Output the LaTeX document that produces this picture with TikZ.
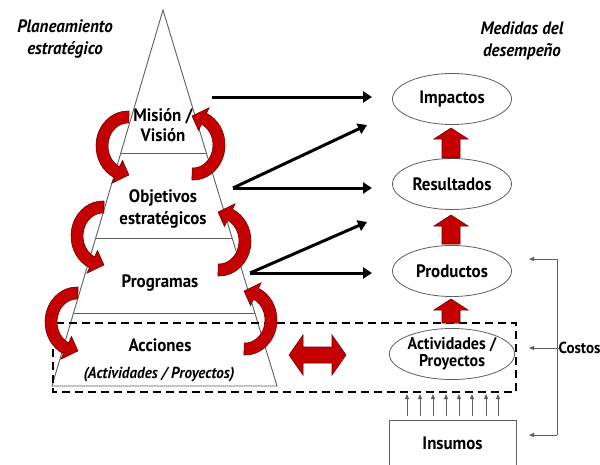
\documentclass[tikz,border=0pt]{standalone}
\usepackage{fontspec}
\setmainfont{PT Sans}[FakeStretch=0.94]
\usetikzlibrary{shapes.geometric,arrows.meta,calc}
\definecolor{arrowred}{RGB}{196,0,0}
\definecolor{darkred}{RGB}{105,0,0}
\definecolor{linegray}{RGB}{95,95,95}
\newcommand\RedCurl[5]{%
  \filldraw[curlst] ($(#1,#2)+(#3:32 and 35)$) arc[start angle=#3,end angle=#4,x radius=32,y radius=35]
    -- ($(#1,#2)+(#4:38 and 41)$) -- ($(#1,#2)+(#5:26 and 29)$) -- ($(#1,#2)+(#4:13 and 16)$)
    -- ($(#1,#2)+(#4:20 and 23)$) arc[start angle=#4,end angle=#3,x radius=20,y radius=23] -- cycle;}
\newcommand\UpBlock[3]{%
  \filldraw[curlst] (#1-9,#3) -- (#1-9,#2+11) -- (#1-17,#2+11) -- (#1,#2)
    -- (#1+17,#2+11) -- (#1+9,#2+11) -- (#1+9,#3) -- cycle;}
\begin{document}
\begin{tikzpicture}[x=1pt,y=-1pt,
  lbl/.style={font=\bfseries\fontsize{18}{21}\selectfont, align=center, inner sep=0pt},
  ital/.style={font=\bfseries\itshape\fontsize{18}{22}\selectfont, align=center, inner sep=0pt},
  oval/.style={ellipse, draw=linegray, line width=0.8pt, minimum width=119pt, minimum height=51pt, inner sep=0pt, font=\bfseries\fontsize{18}{20}\selectfont, align=center},
  pyr/.style={draw=linegray, line width=0.9pt},
  curlst/.style={fill=arrowred, draw=darkred, line width=0.6pt},
  blk/.style={line width=3pt, -{Triangle[length=9pt,width=11pt]}},
  thin/.style={draw=linegray, line width=0.9pt},
  thinarr/.style={draw=linegray, line width=0.9pt, -{Triangle[length=5pt,width=4pt]}},
  frame/.style={draw=black, line width=2.8pt, dash pattern=on 8pt off 5pt}
]
\useasboundingbox (0,0) rectangle (600,464);
\fill[white] (0,0) rectangle (600,464);

% pyramid
\draw[pyr] (163,10) -- (277,386) -- (52,386) -- cycle;
\draw[pyr] (120.8,153) -- (206.4,153);
\draw[pyr] (95.7,238) -- (232.1,238);
\draw[pyr] (73.6,313) -- (254.9,313);

% dashed frame
\draw[frame] (53,323) rectangle (516,392);

% headings
\node[ital] (plan) at (65,39) {Planeamiento\\estratégico};
\node[ital] (med) at (522,41) {Medidas del\\desempeño};

% pyramid labels
\node[lbl, font=\bfseries\fontsize{18}{20}\selectfont] (mision) at (163,125) {Misión /\\Visión};
\node[lbl, font=\bfseries\fontsize{18}{22}\selectfont] (obj) at (163,209) {Objetivos\\estratégicos};
\node[lbl] (prog) at (160,283) {Programas};
\node[lbl] (acc) at (160,345) {Acciones};
\node[ital, font=\bfseries\itshape\fontsize{16}{18}\selectfont] (accsub) at (159,375) {(Actividades / Proyectos)};

% ellipses
\node[oval] (imp) at (452,99) {Impactos};
\node[oval] (res) at (452,184) {Resultados};
\node[oval] (prod) at (452,271) {Productos};
\node[oval, font=\bfseries\fontsize{17}{17}\selectfont] (act) at (452,354) {Actividades /\\Proyectos};

% insumos
\node[draw=linegray, line width=0.9pt, minimum width=127pt, minimum height=46pt, inner sep=0pt,
      font=\bfseries\fontsize{18}{20}\selectfont] (ins) at (452.5,443) {Insumos};

% black arrows
\coordinate (a1) at (212,97);  \coordinate (b1) at (372,97);
\coordinate (a2) at (233,188); \coordinate (b2) at (367,125); \coordinate (c2) at (372,188);
\coordinate (a3) at (250,273); \coordinate (b3) at (367,222); \coordinate (c3) at (372,273);
\draw[blk] (a1) -- (b1);
\draw[blk] (a2) -- (b2);
\draw[blk] (a2) -- (c2);
\draw[blk] (a3) -- (b3);
\draw[blk] (a3) -- (c3);

% red block up arrows
\UpBlock{451}{128}{158}
\UpBlock{451}{215}{244}
\UpBlock{451}{299}{323}

% double arrow
\filldraw[curlst] (289,355) -- (303,335) -- (303,347) -- (332,347) -- (332,335) -- (346,355)
  -- (332,375) -- (332,363) -- (303,363) -- (303,375) -- cycle;

% curling arrows
\RedCurl{128}{146}{-88}{-245}{-272}
\RedCurl{193}{145}{92}{-65}{-92}
\RedCurl{103}{236}{-88}{-245}{-272}
\RedCurl{219}{241}{92}{-65}{-92}
\RedCurl{77}{322}{-88}{-245}{-272}
\RedCurl{245}{320}{92}{-65}{-92}

% inputs
\foreach \x in {407,420,433,446,459,472,486,498}
  \draw[thinarr] (\x,416) -- (\x,394);

% costos
\node[lbl, anchor=west, font=\bfseries\fontsize{16}{18}\selectfont] (cost) at (558.5,348) {Costos};
\coordinate (ct) at (557,259); \coordinate (cb) at (557,435);
\coordinate (et) at (529,259); \coordinate (eb) at (529,435); \coordinate (em) at (529,348);
\draw[thin] (ct) -- (cb);
\draw[thinarr] (ct) -- (et);
\draw[thinarr] (cb) -- (eb);
\draw[thinarr] (cost.west) -- (em);
\end{tikzpicture}
\end{document}
